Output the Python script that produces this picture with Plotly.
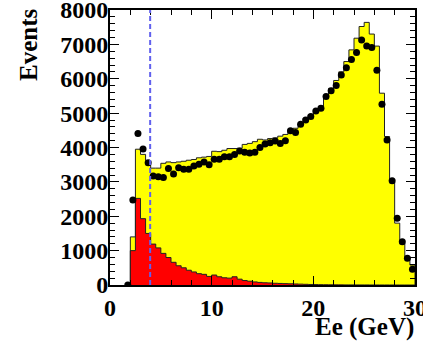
import plotly.graph_objects as go

# ---- data ----
bin_width = 0.5
bin_lo = [2.0 + 0.5 * i for i in range(56)]  # left edges 2.0 .. 29.5

mc_total = [1400, 3950, 3800, 3620, 3400, 3400, 3540, 3580, 3560, 3580,
            3600, 3630, 3650, 3700, 3720, 3740, 3890, 3880, 3920, 3970,
            3970, 3980, 4090, 4120, 4170, 4240, 4220, 4260, 4280, 4330,
            4380, 4480, 4560, 4700, 4850, 4950, 5080, 5200, 5500, 5720,
            5950, 6200, 6500, 6840, 7180, 7520, 7640, 7300, 6950, 5580,
            4320, 3010, 1800, 1210, 780, 580]

mc_bkg = [1000, 2520, 1930, 1500, 1190, 1080, 920, 800, 660, 560,
          500, 430, 380, 330, 310, 250, 290, 240, 210, 200,
          240, 170, 130, 110, 90, 75, 65, 60, 50, 45,
          40, 35, 30, 25, 20, 15, 12, 10, 8, 6,
          5, 4, 3, 3, 2, 2, 2, 1, 1, 1,
          1, 1, 0, 0, 0, 0]

data_x = [1.75 + 0.5 * i for i in range(57)]
data_y = [0, 2470, 4410, 3960, 3560, 3170, 3150, 3130, 3390, 3230,
          3410, 3365, 3365, 3460, 3510, 3578, 3500, 3656, 3656, 3733,
          3733, 3800, 3900, 3860, 3840, 3860, 4000, 4100, 4140, 4190,
          4120, 4200, 4490, 4440, 4680, 4800, 4900, 5060, 5140, 5480,
          5650, 5800, 6110, 6320, 6560, 6760, 7130, 6950, 6910, 6250,
          5260, 4220, 3035, 1940, 1260, 780, 460]

cut_value = 3.95

x_ticks = [0, 10, 20, 30]
x_ticktext = ["0", "10", "20", "30"]
y_ticks = [0, 1000, 2000, 3000, 4000, 5000, 6000, 7000, 8000]
y_ticktext = ["0", "1000", "2000", "3000", "4000", "5000", "6000", "7000", "8000"]


def step_xy(lo, vals, w):
    xs = [lo[0]] + list(lo) + [lo[-1] + w, lo[-1] + w]
    ys = [0] + list(vals) + [vals[-1], 0]
    return xs, ys


fig = go.Figure()

xs, ys = step_xy(bin_lo, mc_total, bin_width)
fig.add_trace(go.Scatter(x=xs, y=ys, mode="lines", line=dict(shape="hv", color="#222222", width=1),
                         fill="tozeroy", fillcolor="#ffff00", hoverinfo="skip", showlegend=False))

xs, ys = step_xy(bin_lo, mc_bkg, bin_width)
fig.add_trace(go.Scatter(x=xs, y=ys, mode="lines", line=dict(shape="hv", color="#222222", width=1),
                         fill="tozeroy", fillcolor="#ff0000", hoverinfo="skip", showlegend=False))

fig.add_trace(go.Scatter(x=data_x, y=data_y, mode="markers",
                         marker=dict(color="black", size=7, symbol="circle"), showlegend=False))

fig.add_shape(type="line", xref="x", yref="paper", x0=cut_value, x1=cut_value, y0=0, y1=1,
              line=dict(color="#6060ee", width=2, dash="5px,3px"))

font_family = "Liberation Serif"
axis_common = dict(showgrid=False, zeroline=False, showline=True, linecolor="black", linewidth=2,
                   mirror="ticks", ticks="inside", ticklen=9, tickwidth=1, tickcolor="black",
                   ticklabeloverflow="allow",
                   tickfont=dict(family=font_family, size=24, color="black"))

fig.update_xaxes(range=[0, 30], tickvals=x_ticks, ticktext=["<b>%s</b>" % t for t in x_ticktext],
                 minor=dict(ticks="inside", ticklen=5, dtick=2, tickcolor="black", showgrid=False),
                 **axis_common)
fig.update_yaxes(range=[0, 8000], tickvals=y_ticks, ticktext=["<b>%s</b>" % t for t in y_ticktext],
                 ticklabelstandoff=-5,
                 minor=dict(ticks="inside", ticklen=5, dtick=200, tickcolor="black", showgrid=False),
                 **axis_common)

L, R, T, B = 110, 8, 10, 57
W, H = 423, 342
pw, ph = W - L - R, H - T - B


def px2paper(px, py):
    return (px - L) / pw, (H - B - py) / ph


ex, ey = px2paper(28, 45)
tx, ty = px2paper(364, 327)
fig.add_annotation(text="<b>Events</b>", x=ex, y=ey, xref="paper", yref="paper", showarrow=False,
                   textangle=-90, xanchor="center", yanchor="middle",
                   font=dict(family=font_family, size=25, color="black"))
fig.add_annotation(text="<b>Ee (GeV)</b>", x=tx, y=ty, xref="paper", yref="paper", showarrow=False,
                   xanchor="center", yanchor="middle",
                   font=dict(family=font_family, size=25, color="black"))

fig.update_layout(width=W, height=H, margin=dict(l=L, r=R, t=T, b=B, autoexpand=False),
                  paper_bgcolor="white", plot_bgcolor="white", showlegend=False)

fig.write_html("out.html")
